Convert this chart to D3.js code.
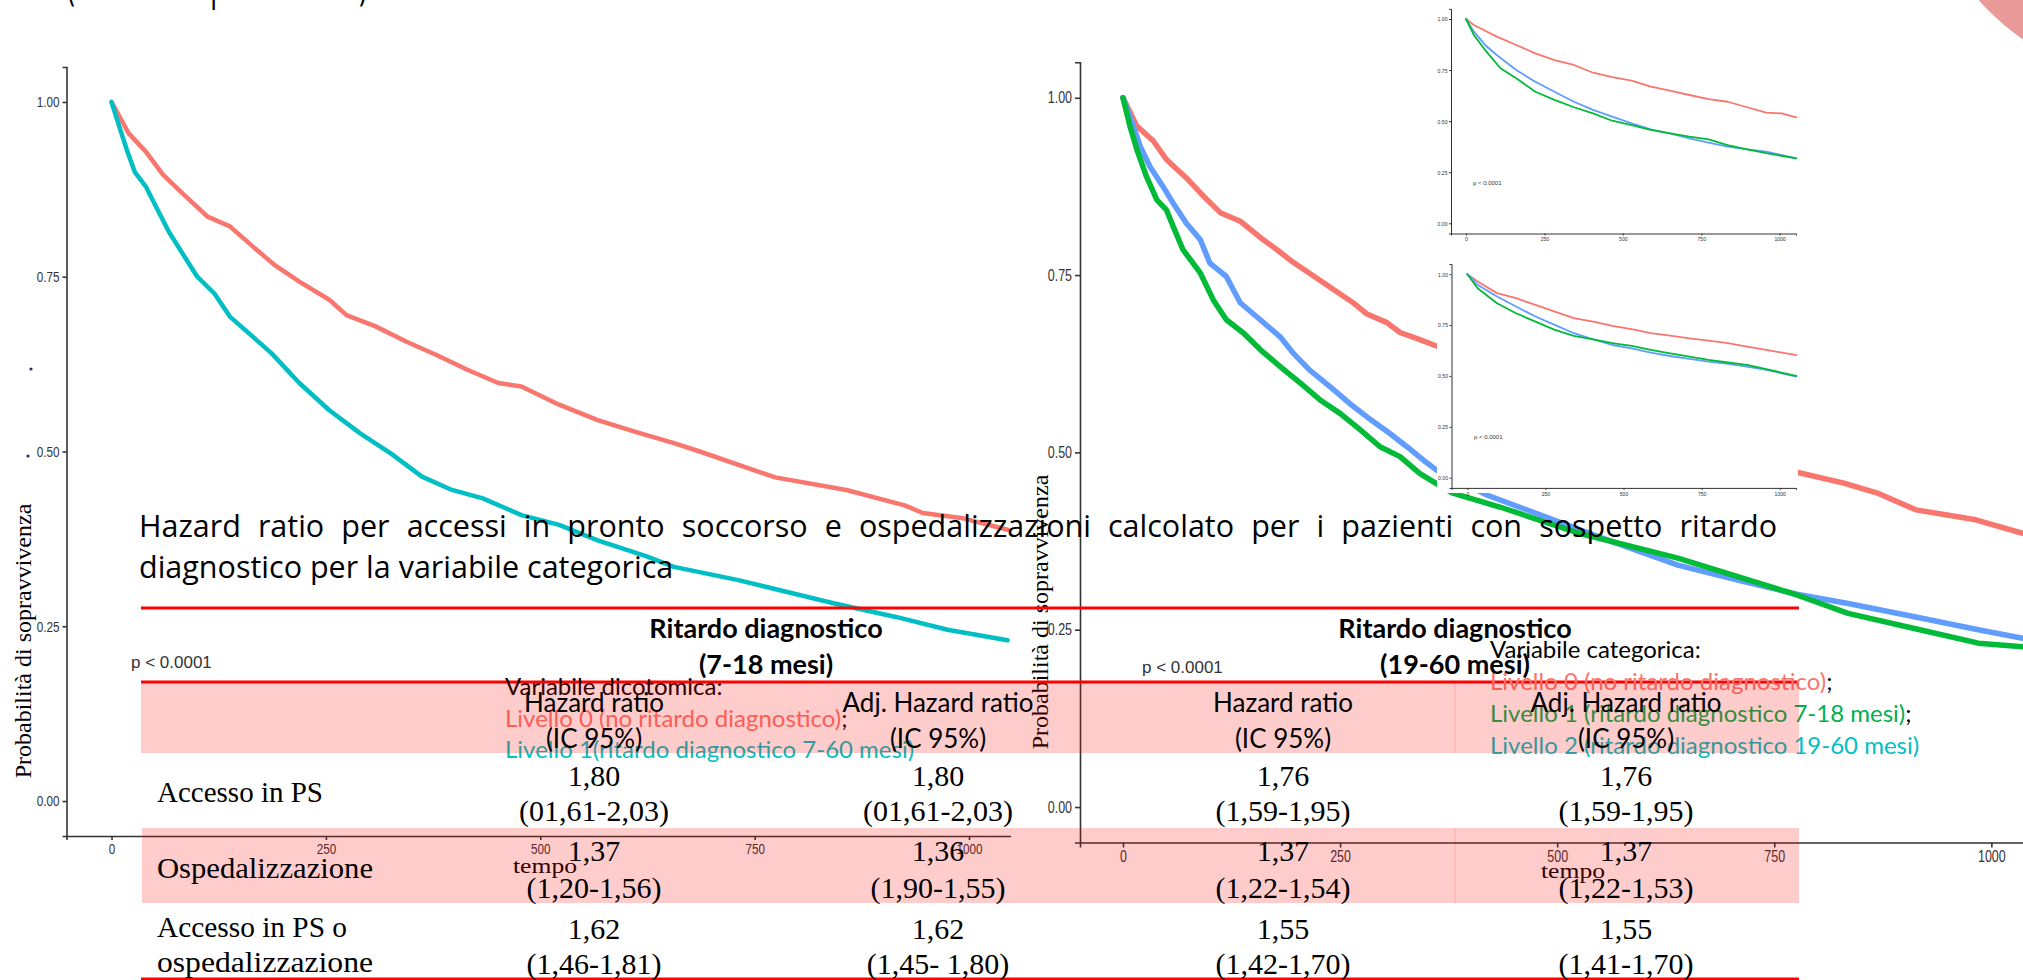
<!DOCTYPE html>
<html><head><meta charset="utf-8">
<script src="https://cdn.jsdelivr.net/npm/d3@7"></script>
<style>
html,body{margin:0;padding:0;background:#fff;overflow:hidden}
svg{display:block}
</style></head><body>
<svg id="c" width="2023" height="980"></svg>
<script>
// ---------------- DATA ----------------
const tickT = [0, 250, 500, 750, 1000];
const tickS = [0, 0.25, 0.5, 0.75, 1];

// left KM (variabile dicotomica): [tempo, sopravvivenza]
const leftRed = [[0,1],[20,0.955],[40,0.929],[60,0.896],[83,0.869],[112,0.836],[138,0.822],[165,0.793],[190,0.767],[219,0.743],[254,0.717],[274,0.695],[308,0.679],[344,0.657],[379,0.638],[415,0.617],[451,0.598],[478,0.593],[522,0.567],[567,0.545],[611,0.528],[656,0.512],[686,0.500],[774,0.463],[857,0.445],[925,0.423],[946,0.412],[991,0.405],[1045,0.388]];
const leftCyan = [[0,1],[9,0.965],[18,0.931],[27,0.900],[40,0.879],[54,0.845],[67,0.814],[85,0.779],[100,0.750],[120,0.726],[138,0.693],[165,0.664],[187,0.640],[219,0.598],[254,0.559],[290,0.526],[326,0.497],[362,0.464],[397,0.445],[433,0.433],[478,0.409],[522,0.395],[567,0.373],[624,0.350],[656,0.335],[731,0.316],[842,0.283],[916,0.263],[975,0.245],[1045,0.230]];

// right KM (variabile categorica)
const rightRed = [[0,1],[16,0.960],[35,0.939],[50,0.913],[73,0.887],[93,0.861],[112,0.838],[135,0.826],[158,0.803],[177,0.786],[196,0.768],[219,0.749],[242,0.730],[265,0.711],[281,0.695],[304,0.683],[319,0.669],[342,0.659],[361,0.650],[776,0.472],[829,0.457],[868,0.443],[913,0.419],[982,0.405],[1036,0.386]];
const rightGreen = [[0,1],[8,0.960],[16,0.927],[27,0.889],[39,0.856],[50,0.842],[58,0.818],[69,0.786],[89,0.753],[104,0.715],[119,0.687],[139,0.668],[158,0.645],[181,0.621],[204,0.598],[227,0.574],[250,0.555],[273,0.532],[296,0.508],[319,0.494],[342,0.470],[361,0.456],[379,0.443],[434,0.423],[525,0.386],[639,0.351],[708,0.325],[776,0.299],[835,0.273],[910,0.252],[985,0.231],[1036,0.226]];
const rightBlue = [[0,1],[12,0.960],[20,0.931],[31,0.903],[46,0.875],[58,0.851],[73,0.823],[89,0.800],[100,0.767],[119,0.748],[135,0.711],[158,0.687],[181,0.663],[196,0.640],[215,0.616],[238,0.593],[261,0.569],[281,0.550],[307,0.527],[327,0.508],[346,0.489],[361,0.475],[419,0.440],[548,0.381],[639,0.341],[708,0.320],[776,0.300],[835,0.287],[913,0.268],[985,0.250],[1036,0.238]];

// inset 1 (top)
const in1Red = [[0,1],[25,0.971],[98,0.914],[160,0.873],[221,0.832],[282,0.799],[344,0.775],[405,0.737],[466,0.715],[528,0.698],[589,0.669],[650,0.649],[712,0.628],[773,0.608],[834,0.595],[896,0.568],[957,0.542],[1006,0.538],[1053,0.519]];
const in1Blue = [[0,1],[25,0.938],[61,0.873],[98,0.824],[160,0.750],[221,0.693],[282,0.644],[344,0.595],[405,0.555],[466,0.522],[528,0.489],[589,0.460],[650,0.440],[712,0.416],[773,0.395],[834,0.375],[896,0.362],[957,0.351],[1053,0.318]];
const in1Green = [[0,1],[25,0.922],[61,0.848],[110,0.759],[160,0.710],[221,0.644],[282,0.604],[344,0.568],[405,0.538],[466,0.502],[528,0.481],[589,0.457],[650,0.440],[712,0.424],[773,0.411],[834,0.383],[896,0.362],[957,0.343],[1053,0.318]];
// inset 2 (bottom)
const in2Red = [[0,1],[33,0.964],[95,0.907],[156,0.882],[218,0.849],[280,0.816],[341,0.784],[403,0.767],[464,0.746],[526,0.730],[587,0.710],[649,0.698],[711,0.685],[772,0.674],[834,0.661],[895,0.644],[957,0.628],[1053,0.602]];
const in2Blue = [[0,1],[33,0.948],[95,0.890],[156,0.841],[218,0.792],[280,0.751],[341,0.710],[403,0.680],[464,0.652],[526,0.636],[587,0.615],[649,0.598],[711,0.584],[772,0.570],[834,0.559],[895,0.546],[957,0.530],[1053,0.497]];
const in2Green = [[0,1],[33,0.931],[95,0.857],[156,0.808],[218,0.767],[280,0.726],[341,0.697],[403,0.680],[464,0.661],[526,0.648],[587,0.628],[649,0.611],[711,0.595],[772,0.579],[834,0.566],[895,0.554],[957,0.533],[1053,0.500]];

// texts
const topTitle = "(curve di sopravvivenza)";
const titleLine1 = "Hazard ratio per accessi in pronto soccorso e ospedalizzazioni calcolato per i pazienti con sospetto ritardo";
const titleLine2 = "diagnostico per la variabile categorica";
const yLabel = "Probabilità di sopravvivenza";
const xLabel = "tempo";
const pText = "p < 0.0001";

// table
const groupHeads = [["Ritardo diagnostico","(7-18 mesi)"],["Ritardo diagnostico","(19-60 mesi)"]];
const colHeads = [["Hazard ratio","(IC 95%)"],["Adj. Hazard ratio","(IC 95%)"],["Hazard ratio","(IC 95%)"],["Adj. Hazard ratio","(IC 95%)"]];
const rowLabels = [["Accesso in PS"],["Ospedalizzazione"],["Accesso in PS o","ospedalizzazione"]];
const hr718   = ["1,80","1,37","1,62"];
const ci718   = ["(01,61-2,03)","(1,20-1,56)","(1,46-1,81)"];
const adj718  = ["1,80","1,36","1,62"];
const adjci718= ["(01,61-2,03)","(1,90-1,55)","(1,45- 1,80)"];
const hr1960  = ["1,76","1,37","1,55"];
const ci1960  = ["(1,59-1,95)","(1,22-1,54)","(1,42-1,70)"];
const adj1960 = ["1,76","1,37","1,55"];
const adjci1960=["(1,59-1,95)","(1,22-1,53)","(1,41-1,70)"];

// legends
const legLeftTitle = "Variabile dicotomica:";
const legLeftItems = [["Livello 0 (no ritardo diagnostico)",";"],["Livello 1(ritardo diagnostico 7-60 mesi)",""]];
const legRightTitle = "Variabile categorica:";
const legRightItems = [["Livello 0 (no ritardo diagnostico)",";"],["Livello 1 (ritardo diagnostico 7-18 mesi)",";"],["Livello 2 (ritardo diagnostico 19-60 mesi)",""]];

// ---------------- DRAW ----------------
const RED = "#F8766D", CYAN = "#00BFC4", GREEN = "#00BA38", BLUE = "#619CFF";
const svg = d3.select("#c");
svg.append("rect").attr("width",2023).attr("height",980).attr("fill","#fff");

function km(g, o) {
  const x = d3.scaleLinear().domain(o.xd).range(o.xr);
  const y = d3.scaleLinear().domain([-0.05, 1.05]).range(o.yr);
  const ax = g.append("g").attr("transform", `translate(0,${o.yr[0]})`)
    .call(d3.axisBottom(x).tickValues(tickT).tickSizeOuter(0).tickSize(o.tl).tickPadding(o.tp).tickFormat(d3.format("d")));
  const ay = g.append("g").attr("transform", `translate(${o.xr[0]},0)`)
    .call(d3.axisLeft(y).tickValues(tickS).tickSizeOuter(0).tickSize(o.tl).tickPadding(o.tp).tickFormat(d3.format(".2f")));
  [ax, ay].forEach(a => {
    a.select(".domain").attr("stroke", "#333").attr("stroke-width", o.aw);
    a.selectAll(".tick line").attr("stroke", "#333").attr("stroke-width", o.aw);
    a.selectAll(".tick text").attr("fill", "#333").style("font-family", "'Liberation Sans', Arial, sans-serif").style("font-size", o.fs + "px")
      .each(function () {
        const w = this.getComputedTextLength();
        d3.select(this).attr("textLength", w * o.sx).attr("lengthAdjust", "spacingAndGlyphs");
      });
  });
  const line = d3.line().x(d => x(d[0])).y(d => y(d[1])).curve(d3.curveLinear);
  o.series.forEach(s => {
    g.append("path").datum(s.data).attr("d", line).attr("fill", "none")
      .attr("stroke", s.color).attr("stroke-width", o.lw).attr("stroke-linejoin", "round").attr("stroke-linecap", "round");
  });
  g.append("text").attr("x", o.pPos[0]).attr("y", o.pPos[1]).attr("dominant-baseline", "central")
    .style("font-family", "'Liberation Sans', Arial, sans-serif").style("font-size", o.pfs + "px").attr("fill", "#333").text(pText);
  return {x, y};
}

// left chart
const gL = svg.append("g");
km(gL, {xd: [-52.5, 1102.5], xr: [66.5, 1056.9], yr: [836, 67], tl: 4, tp: 3, aw: 1.6, fs: 15, sx: 0.78, lw: 4.5,
  series: [{data: leftRed, color: RED}, {data: leftCyan, color: CYAN}], pPos: [131, 662], pfs: 17});
gL.append("text").attr("transform", "translate(23,641) rotate(-90)").attr("text-anchor", "middle").attr("dominant-baseline", "central")
  .style("font-family", "'Liberation Serif', serif").style("font-size", "24px").text(yLabel);
gL.append("text").attr("x", 545).attr("y", 865).attr("text-anchor", "middle").attr("dominant-baseline", "central")
  .attr("textLength", 64).attr("lengthAdjust", "spacingAndGlyphs")
  .style("font-family", "'Liberation Serif', serif").style("font-size", "22px").text(xLabel);
gL.append("circle").attr("cx", 31).attr("cy", 369).attr("r", 1.6).attr("fill", "#30305a");
gL.append("circle").attr("cx", 28).attr("cy", 456).attr("r", 1.6).attr("fill", "#30305a");

// right chart (white image background)
const gR = svg.append("g");
gR.append("rect").attr("x", 1011).attr("y", 40).attr("width", 1012).attr("height", 940).attr("fill", "#fff");
km(gR, {xd: [-49.5, 1100], xr: [1080, 2078.2], yr: [842.5, 62.3], tl: 5, tp: 3, aw: 1.6, fs: 16, sx: 0.78, lw: 5.5,
  series: [{data: rightRed, color: RED}, {data: rightBlue, color: BLUE}, {data: rightGreen, color: GREEN}], pPos: [1142, 667], pfs: 17});
gR.append("text").attr("transform", "translate(1040,612) rotate(-90)").attr("text-anchor", "middle").attr("dominant-baseline", "central")
  .style("font-family", "'Liberation Serif', serif").style("font-size", "24px").text(yLabel);
gR.append("text").attr("x", 1573).attr("y", 870).attr("text-anchor", "middle").attr("dominant-baseline", "central")
  .attr("textLength", 64).attr("lengthAdjust", "spacingAndGlyphs")
  .style("font-family", "'Liberation Serif', serif").style("font-size", "22px").text(xLabel);

// insets
const gI = svg.append("g");
gI.append("rect").attr("x", 1437).attr("y", 0).attr("width", 361).attr("height", 493).attr("fill", "#fff");
km(gI.append("g"), {xd: [-47.8, 1052], xr: [1451, 1796], yr: [233.5, 8.8], tl: 2, tp: 1.5, aw: 1, fs: 6, sx: 0.85, lw: 1.8,
  series: [{data: in1Red, color: RED}, {data: in1Blue, color: BLUE}, {data: in1Green, color: GREEN}], pPos: [1473, 183], pfs: 6});
km(gI.append("g"), {xd: [-50.6, 1052], xr: [1451.5, 1796], yr: [487.9, 264], tl: 2, tp: 1.5, aw: 1, fs: 6, sx: 0.85, lw: 1.8,
  series: [{data: in2Red, color: RED}, {data: in2Blue, color: BLUE}, {data: in2Green, color: GREEN}], pPos: [1474, 437], pfs: 6});

// decorative circle top-right
svg.append("circle").attr("cx", 2170).attr("cy", -170).attr("r", 256).attr("fill", "#ea9999");

// partially visible top title (only descenders show)
svg.append("text").attr("x", 67).attr("y", -1).attr("textLength", 300).attr("lengthAdjust", "spacingAndGlyphs")
  .style("font-family", "'Open Sans', sans-serif").style("font-size", "44px").text(topTitle);

// main title (justified first line)
const TF = "'Open Sans', sans-serif";
const tw = titleLine1.split(" ");
const tNodes = tw.map(w => svg.append("text").attr("y", 525).attr("dominant-baseline", "central")
  .style("font-family", TF).style("font-size", "30.5px").attr("fill", "#000").text(w));
const wW = tNodes.map(t => t.node().getComputedTextLength());
const gap = (1777 - 139 - d3.sum(wW)) / (tw.length - 1);
let cx = 139;
tNodes.forEach((t, i) => { t.attr("x", cx); cx += wW[i] + gap; });
svg.append("text").attr("x", 139).attr("y", 566).attr("dominant-baseline", "central")
  .style("font-family", TF).style("font-size", "30.5px").text(titleLine2);

// red rules
[608, 682, 979].forEach(yy => svg.append("line").attr("x1", 141).attr("x2", 1799).attr("y1", yy).attr("y2", yy)
  .attr("stroke", "#ff0000").attr("stroke-width", 3));

// legends (below the translucent table shading)
const LF = "Lato, 'Open Sans', sans-serif";
function legend(x, y0, dy, title, items, colors) {
  svg.append("text").attr("x", x).attr("y", y0).attr("dominant-baseline", "central")
    .style("font-family", LF).style("font-size", "24px").text(title);
  items.forEach((it, i) => {
    const t = svg.append("text").attr("x", x).attr("y", y0 + dy * (i + 1)).attr("dominant-baseline", "central")
      .style("font-family", LF).style("font-size", "24px");
    t.append("tspan").attr("fill", colors[i]).text(it[0]);
    t.append("tspan").attr("fill", "#000").text(it[1]);
  });
}
legend(505, 685, 31.5, legLeftTitle, legLeftItems, [RED, "#00BFC4"]);
legend(1490, 648, 32, legRightTitle, legRightItems, [RED, "#00B050", "#00BFC4"]);

// translucent shading bands
svg.append("rect").attr("x", 141).attr("y", 683).attr("width", 1658).attr("height", 70).attr("fill", "rgba(255,0,0,0.2)");
svg.append("rect").attr("x", 142).attr("y", 828).attr("width", 1657).attr("height", 75).attr("fill", "rgba(255,0,0,0.2)");
[[683, 753], [828, 903]].forEach(r => svg.append("line").attr("x1", 1455).attr("x2", 1455).attr("y1", r[0]).attr("y2", r[1])
  .attr("stroke", "rgba(255,0,0,0.18)").attr("stroke-width", 1));

// table headers
const groupX = [766, 1455];
groupHeads.forEach((h, i) => h.forEach((s, j) => svg.append("text").attr("x", groupX[i]).attr("y", 627 + j * 36)
  .attr("text-anchor", "middle").attr("dominant-baseline", "central")
  .style("font-family", LF).style("font-weight", "bold").style("font-size", "27px").text(s)));
const colX = [594, 938, 1283, 1626];
colHeads.forEach((h, i) => h.forEach((s, j) => svg.append("text").attr("x", colX[i]).attr("y", 702 + j * 36)
  .attr("text-anchor", "middle").attr("dominant-baseline", "central")
  .style("font-family", LF).style("font-size", "26px").text(s)));

// table body
const SF = "'Liberation Serif', 'Times New Roman', serif";
const labelY = [[792], [868], [927, 962]];
const labelW = [[166], [216], [190, 216]];
rowLabels.forEach((ls, i) => ls.forEach((s, j) => svg.append("text").attr("x", 157).attr("y", labelY[i][j])
  .attr("dominant-baseline", "central").attr("textLength", labelW[i][j]).attr("lengthAdjust", "spacingAndGlyphs")
  .style("font-family", SF).style("font-size", "29px").text(s)));
const rowY1 = [775, 850, 928], rowY2 = [810, 887, 963];
const cols = [[hr718, ci718], [adj718, adjci718], [hr1960, ci1960], [adj1960, adjci1960]];
cols.forEach((c, ci) => {
  c[0].forEach((v, r) => svg.append("text").attr("x", colX[ci]).attr("y", rowY1[r]).attr("text-anchor", "middle")
    .attr("dominant-baseline", "central").style("font-family", SF).style("font-size", "30px").text(v));
  c[1].forEach((v, r) => svg.append("text").attr("x", colX[ci]).attr("y", rowY2[r]).attr("text-anchor", "middle")
    .attr("dominant-baseline", "central").style("font-family", SF).style("font-size", "30px").text(v));
});
</script>
</body></html>
